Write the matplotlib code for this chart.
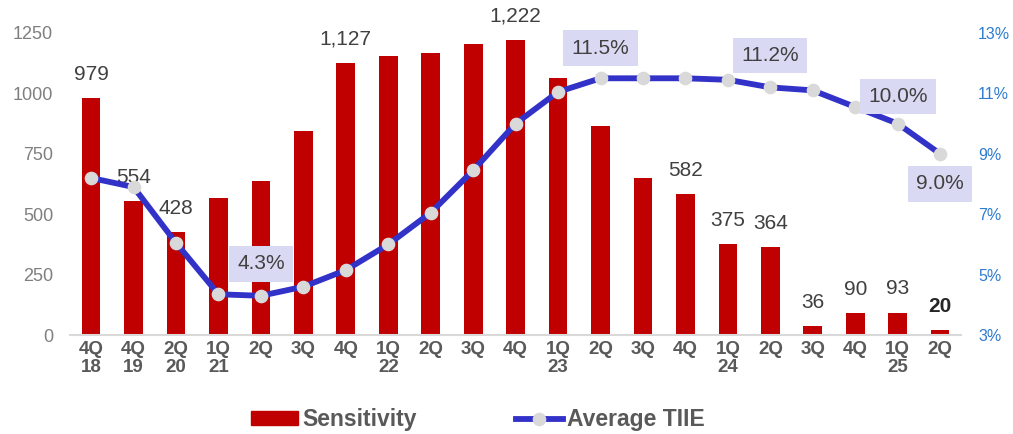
import matplotlib.pyplot as plt
from matplotlib.lines import Line2D
from matplotlib.patches import Patch

plt.rcParams['font.family'] = ['Liberation Sans', 'DejaVu Sans']

quarters = ["4Q\n18", "4Q\n19", "2Q\n20", "1Q\n21", "2Q", "3Q", "4Q", "1Q\n22", "2Q", "3Q", "4Q",
            "1Q\n23", "2Q", "3Q", "4Q", "1Q\n24", "2Q", "3Q", "4Q", "1Q\n25", "2Q"]
sensitivity = [979, 554, 428, 567, 637, 844, 1127, 1155, 1167, 1204, 1222,
               1064, 865, 650, 582, 375, 364, 36, 90, 93, 20]
tiie = [8.2, 7.9, 6.05, 4.35, 4.3, 4.6, 5.15, 6.0, 7.05, 8.45, 10.0,
        11.05, 11.5, 11.5, 11.5, 11.45, 11.2, 11.1, 10.55, 10.0, 9.0]

# which bars get a value label, and which rate points get a boxed label (offset in px)
bar_labels = {0: "979", 1: "554", 2: "428", 6: "1,127", 10: "1,222", 14: "582",
              15: "375", 16: "364", 17: "36", 18: "90", 19: "93", 20: "20"}
rate_labels = {4: 32, 12: 30, 16: 32, 19: 27, 20: -30}

red = "#C00000"
blue = "#3232C8"
txt = "#404040"

fig = plt.figure(figsize=(10.13, 4.34), dpi=100)
ax = fig.add_axes([0.069, 0.228, 0.88, 0.696])
x = list(range(len(quarters)))

ax.bar(x, sensitivity, width=0.44, color=red, zorder=2)
ax.set_xlim(-0.5, len(quarters) - 0.5)
ax.set_ylim(0, 1250)
ax.set_yticks([0, 250, 500, 750, 1000, 1250])
ax.tick_params(axis="y", length=0, colors="#7F7F7F", labelsize=13, pad=12)
ax.set_xticks(x)
ax.set_xticklabels(quarters, fontsize=13.5, fontweight="bold", color="#595959", linespacing=1.12)
ax.tick_params(axis="x", length=0, pad=4)
for s in ["left", "right", "top"]:
    ax.spines[s].set_visible(False)
ax.spines["bottom"].set_color("#D9D9D9")
ax.spines["bottom"].set_linewidth(1.5)

for i, lab in bar_labels.items():
    ax.annotate(lab, (i, sensitivity[i]), xytext=(0, 17), textcoords="offset points",
                ha="center", va="center", fontsize=15, color=txt if i != 20 else "#262626",
                fontweight="bold" if i == 20 else "normal", zorder=5)

ax2 = ax.twinx()
ax2.plot(x, tiie, color=blue, lw=4.2, marker="o", ms=8.8, mfc="#D9D9D9", mec="#D9D9D9", zorder=3)
ax2.set_ylim(3, 13)
ax2.set_yticks([3, 5, 7, 9, 11, 13])
ax2.set_yticklabels([f"{v}%" for v in [3, 5, 7, 9, 11, 13]])
ax2.tick_params(axis="y", length=0, colors="#2E7BCF", labelsize=11.5, pad=12)
for s in ["left", "right", "top", "bottom"]:
    ax2.spines[s].set_visible(False)

for i, off in rate_labels.items():
    ax2.annotate(f"{tiie[i]:.1f}%", (i, tiie[i]), xytext=(0, off * 0.72), textcoords="offset points",
                 ha="center", va="center", fontsize=15, color=txt, zorder=6,
                 bbox=dict(boxstyle="square,pad=0.4", fc="#D9D9F3", ec="none"))

handles = [Patch(color=red), Line2D([0], [0], color=blue, lw=4.2, marker="o", ms=8.8,
                                    mfc="#D9D9D9", mec="#D9D9D9")]
leg = fig.legend(handles, ["Sensitivity", "Average TIIE"], loc="center", bbox_to_anchor=(0.472, 0.033),
                 ncol=2, frameon=False, handlelength=2.05, handleheight=0.6, columnspacing=4.3,
                 handletextpad=0.2, prop=dict(size=16.5, weight="bold"))
for t in leg.get_texts():
    t.set_color("#595959")

fig.savefig("out.png", dpi=100)
